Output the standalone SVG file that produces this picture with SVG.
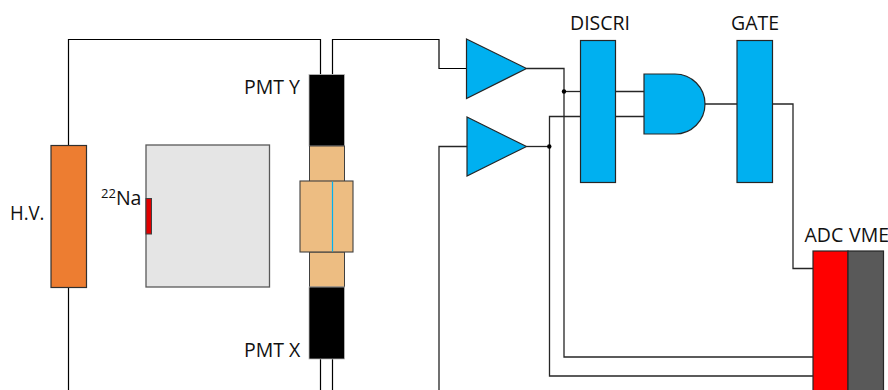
<svg xmlns="http://www.w3.org/2000/svg" width="888" height="390" viewBox="0 0 888 390">
<style>
.w{fill:none;stroke:#262626;stroke-width:1.3}
.k{fill:none;stroke:#000;stroke-width:1.2}
.b{fill:#00B0F0;stroke:#262626;stroke-width:1.2}
.t{font-family:"Open Sans",sans-serif;font-size:19.500px;fill:#111}
.d{fill:#000}
</style>
<rect width="888" height="390" fill="#fff"/>
<g id="connectors">
<path class="k" d="M68.500 145V39.500H320.500V74.500"/>
<path class="k" d="M332.500 74.500V39.500H439V68.500H466.500"/>
<path class="k" d="M68.500 287.500V390"/>
<path class="k" d="M320.500 359V390M332.500 359V390"/>
<path class="w" d="M439 390V146.500H467"/>
<path class="w" d="M526.500 68.500H564V357H813"/>
<path class="w" d="M564 91.500H580.500"/>
<path class="w" d="M526.500 146.500H549.500"/>
<path class="w" d="M580.500 116.500H549.500V376H813"/>
<path class="w" d="M615.500 91.500H644M615.500 116.500H644"/>
<path class="w" d="M704.500 104H737"/>
<path class="w" d="M772.500 104H793V268.500H813"/>
<circle class="d" cx="564" cy="91.500" r="2.200"/>
<circle class="d" cx="549.300" cy="146.500" r="2.200"/>
</g>
<g id="hv"><rect x="51" y="145.500" width="35.500" height="142" fill="#ED7D31" stroke="#303030" stroke-width="1.200"/><text class="t" x="10" y="219.500" textLength="34.500" lengthAdjust="spacingAndGlyphs">H.V.</text></g>
<g id="source-block"><rect x="146" y="145" width="123.500" height="142" fill="#E5E5E5" stroke="#595959" stroke-width="1.300"/></g>
<g id="source"><rect x="146" y="198.500" width="5.500" height="35.500" fill="#E00000" stroke="#404040" stroke-width="1"/><text class="t" x="101" y="205"><tspan font-size="13" dy="-7">22</tspan><tspan dy="7">Na</tspan></text></g>
<g id="pmt-y"><rect x="309" y="74.500" width="35.500" height="71.500" fill="#000" stroke="#bbb" stroke-width="0.800"/><text class="t" x="244" y="94">PMT Y</text></g>
<g id="guide-y"><rect x="309.500" y="146" width="35" height="35.500" fill="#EDBD82" stroke="#404040" stroke-width="1"/></g>
<g id="guide-x"><rect x="309.500" y="252" width="35" height="35" fill="#EDBD82" stroke="#404040" stroke-width="1"/></g>
<g id="crystal"><rect x="300" y="181" width="53" height="71" fill="#EDBD82" stroke="#404040" stroke-width="1.100"/><path d="M332.500 181.500V251.500" stroke="#00B0F0" stroke-width="1.200" fill="none"/></g>
<g id="pmt-x"><rect x="309" y="287" width="35.500" height="72" fill="#000" stroke="#bbb" stroke-width="0.800"/><text class="t" x="244" y="356.500">PMT X</text></g>
<g id="amp-1"><path class="b" d="M466.500 39L526.500 68.500L466.500 98.500Z"/></g>
<g id="amp-2"><path class="b" d="M467 117L526.500 146.500L467 176Z"/></g>
<g id="discri"><rect class="b" x="580.500" y="40.500" width="35" height="142"/><text class="t" x="570" y="29.500">DISCRI</text></g>
<g id="and"><path class="b" d="M644 74H675A30 30 0 0 1 675 134H644Z"/></g>
<g id="gate"><rect class="b" x="737" y="40.500" width="35.500" height="142"/><text class="t" x="731" y="29.500">GATE</text></g>
<g id="adc"><rect x="813" y="251" width="35" height="145" fill="#FF0000" stroke="#262626" stroke-width="1.200"/><text class="t" x="804.500" y="242">ADC</text></g>
<g id="vme"><rect x="848" y="251" width="35.500" height="145" fill="#595959" stroke="#262626" stroke-width="1.200"/><text class="t" x="849" y="242">VME</text></g>
</svg>
